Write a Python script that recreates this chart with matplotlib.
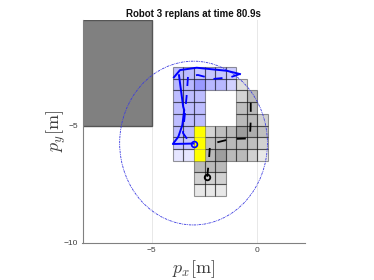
import matplotlib
matplotlib.use("Agg")
import matplotlib.pyplot as plt
from matplotlib.patches import Rectangle, Ellipse

plt.rcParams['font.family'] = ['Liberation Sans', 'DejaVu Sans']
plt.rcParams['mathtext.fontset'] = 'cm'

title = 'Robot 3 replans at time 80.9s'
x_ticks = [-5, 0]
y_ticks = [-5, -10]

# cells: lower left x, lower left y, strength
blue_cells = [
    (-4, -3, .26), (-3.5, -3, .26), (-3, -3, .22), (-2.5, -3, .22), (-2, -3, .22), (-1.5, -3, .2),
    (-4, -3.5, .28), (-3.5, -3.5, .28), (-3, -3.5, .4), (-2.5, -3.5, .28), (-2, -3.5, .28), (-1.5, -3.5, .18),
    (-4, -4, .26), (-3.5, -4, .26), (-3, -4, .26),
    (-4, -4.5, .26), (-3.5, -4.5, .26), (-3, -4.5, .26),
    (-4, -5, .26), (-3.5, -5, .26), (-3, -5, .26),
    (-4, -5.5, .26), (-3.5, -5.5, .26),
    (-4, -6, .22), (-3.5, -6, .22),
    (-4, -6.5, .1), (-3.5, -6.5, .1),
]
gray_cells = [
    (-1, -3.5, .13),
    (-1, -4, .17), (-0.5, -4, .27),
    (-1, -4.5, .25), (-0.5, -4.5, .27),
    (-1, -5, .27), (-0.5, -5, .27), (0, -5, .18),
    (-2.5, -5.5, .17), (-2, -5.5, .25), (-1.5, -5.5, .27), (-1, -5.5, .38), (-0.5, -5.5, .32), (0, -5.5, .25),
    (-2.5, -6, .25), (-2, -6, .27), (-1.5, -6, .27), (-1, -6, .27), (-0.5, -6, .25), (0, -6, .18),
    (-2.5, -6.5, .27), (-2, -6.5, .38), (-1.5, -6.5, .27), (-1, -6.5, .27), (-0.5, -6.5, .18), (0, -6.5, .09),
    (-3, -7, .27), (-2.5, -7, .27), (-2, -7, .27),
    (-3, -7.5, .18), (-2.5, -7.5, .18), (-2, -7.5, .18),
    (-3, -8, .09), (-2.5, -8, .09), (-2, -8, .09),
]
yellow_cells = [(-3, -5.5), (-3, -6), (-3, -6.5)]
cell_w = 0.5
cell_h = 0.5

blue_solid_x = [-3.02, -4.0, -3.74, -3.55, -3.46, -3.51, -3.71]
blue_solid_y = [-5.77, -5.79, -5.48, -4.98, -4.34, -4.2, -2.85]
blue_arc_x = [-3.95, -3.66, -2.87, -1.45, -0.82]
blue_arc_y = [-2.94, -2.63, -2.53, -2.66, -2.8]
blue_dash_x = [-0.82, -1.29, -2.1, -2.81, -3.28, -3.35, -3.52, -3.19]
blue_dash_y = [-2.8, -2.94, -3.01, -2.84, -2.88, -3.77, -5.32, -5.75]
black_dash_x = [-2.37, -2.29, -2.24, -1.86, -1.29, -0.35, -0.31, -0.31]
black_dash_y = [-7.19, -6.47, -5.83, -5.71, -5.58, -5.55, -4.76, -3.61]

fig = plt.figure(figsize=(3.74, 2.8), dpi=100)
ax = fig.add_axes([82.5 / 374, 1 - 242.5 / 280, 222.5 / 374, 222.5 / 280])
ax.set_xlim(-8.28, 2.26)
ax.set_ylim(-10, -0.49)

ax.add_patch(Rectangle((-8.28, -5), 3.28, 4.51, fc='#808080', ec='#555555', lw=1, zorder=2))

for cx, cy, a in blue_cells:
    ax.add_patch(Rectangle((cx, cy), cell_w, cell_h, fc=(0, 0, 1, a), ec=(0, 0, 0, .4), lw=.8, zorder=2))
for cx, cy, a in gray_cells:
    ax.add_patch(Rectangle((cx, cy), cell_w, cell_h, fc=(0, 0, 0, a), ec=(0, 0, 0, .4), lw=.8, zorder=2))
for cx, cy in yellow_cells:
    ax.add_patch(Rectangle((cx, cy), cell_w, cell_h, fc='#ffff00', ec=(0, 0, 0, .2), lw=.5, zorder=2))

# communication range
ax.add_patch(Ellipse((-3.02, -5.75), 7, 7, fc='none', ec='#3a3ae0', lw=.6, ls=(0, (3, 1, 1, 1)), zorder=3))

ax.plot(blue_solid_x, blue_solid_y, color='#0000ff', lw=1.4, zorder=4)
ax.plot(blue_arc_x, blue_arc_y, color='#0000ff', lw=1.4, zorder=4)
ax.plot(blue_dash_x, blue_dash_y, color='#0000ff', lw=1.3, ls=(0, (5, 5)), zorder=4)
ax.plot(black_dash_x, black_dash_y, color='black', lw=1.3, ls=(0, (5, 6)), zorder=4)
ax.plot(blue_solid_x[0], blue_solid_y[0], 'o', ms=4.2, mfc='none', mec='#0000ff', mew=1.2, zorder=5)
ax.plot(black_dash_x[0], black_dash_y[0], 'o', ms=4, mfc='none', mec='black', mew=1.3, zorder=5)

ax.set_xticks(x_ticks)
ax.set_yticks(y_ticks)
ax.grid(True, axis='x', color='#e8e8e8', lw=.7)
ax.set_axisbelow(True)
ax.tick_params(labelsize=6, colors='#404040', length=0, pad=3)
for s in ['top', 'right']:
    ax.spines[s].set_visible(False)
for s in ['left', 'bottom']:
    ax.spines[s].set_color('#808080')
    ax.spines[s].set_linewidth(.8)

ax.set_xlabel(r'$p_x[\mathrm{m}]$', fontsize=13, color='#404040', labelpad=3)
ax.set_ylabel(r'$p_y[\mathrm{m}]$', fontsize=13, color='#404040', labelpad=-3)
fig.text(193.5 / 374, 1 - 14 / 280, title, fontsize=7, fontweight='bold', ha='center', va='center', color='#111111')

fig.savefig('out.png', dpi=100)
